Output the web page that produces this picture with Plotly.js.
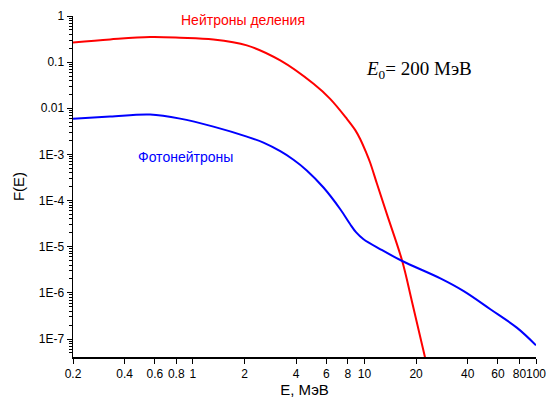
<!DOCTYPE html>
<html><head><meta charset="utf-8">
<script src="https://cdn.plot.ly/plotly-3.0.1.min.js"></script>
<style>html,body{margin:0;padding:0;background:#fff}#c{width:547px;height:403px}</style>
</head><body><div id="c"></div>
<script>
const fissionE = [0.2, 0.329, 0.563, 0.842, 1.317, 2.063, 3.23, 5.05, 6.31, 7.9, 8.84, 9.44, 10.24, 10.8, 11.83, 13.5, 16.6, 18.9, 22.6];
const fissionF = [0.268, 0.311, 0.35, 0.339, 0.311, 0.231, 0.109, 0.0339, 0.016, 0.00589, 3.36e-3, 2.16e-3, 1.09e-3, 6.6e-4, 2.31e-4, 5.14e-5, 4.9e-6, 6.6e-7, 3.86e-8];
const photoE = [0.2, 0.329, 0.563, 0.842, 1.317, 2.063, 2.578, 3.23, 3.858, 4.61, 5.77, 7.23, 8.26, 8.95, 9.88, 12.4, 16.6, 27.7, 37.9, 54.2, 77.6, 100];
const photoF = [0.0059, 0.0066, 0.0073, 0.00597, 0.004, 0.00243, 1.80e-3, 1.174e-3, 7.67e-4, 4.5e-4, 1.92e-4, 6.5e-5, 3.07e-5, 2.04e-5, 1.45e-5, 8.8e-6, 4.9e-6, 2.06e-6, 1.09e-6, 4.42e-7, 1.74e-7, 7.3e-8];
const xTickVals = [0.2, 0.4, 0.6, 0.8, 1, 2, 4, 6, 8, 10, 20, 40, 60, 80, 100];
const xTickText = ['0.2', '0.4', '0.6', '0.8', '1', '2', '4', '6', '8', '10', '20', '40', '60', '80', '100'];
const yTickVals = [1, 0.1, 0.01, 1e-3, 1e-4, 1e-5, 1e-6, 1e-7];
const yTickText = ['1', '0.1', '0.01', '1E-3', '1E-4', '1E-5', '1E-6', '1E-7'];

const yMinor = [];
for (let d = -8; d < 0; d++) for (let m = 2; m <= 9; m++) yMinor.push(m * Math.pow(10, d));

const yRange = [-7.39, 0];
const traces = [
  {x: fissionE, y: fissionF, type: 'scatter', mode: 'lines', line: {color: '#ff0000', width: 2, shape: 'spline', smoothing: 1, simplify: false}, hoverinfo: 'skip'},
  {x: photoE, y: photoF, type: 'scatter', mode: 'lines', line: {color: '#0000ff', width: 2, shape: 'spline', smoothing: 1, simplify: false}, hoverinfo: 'skip'},
  {x: [1], y: [1e-3], yaxis: 'y2', type: 'scatter', mode: 'markers', marker: {opacity: 0, size: 1}, hoverinfo: 'skip'}
];
const layout = {
  width: 547, height: 403,
  margin: {l: 73, r: 11, t: 16, b: 46},
  paper_bgcolor: '#fff', plot_bgcolor: 'rgba(0,0,0,0)',
  showlegend: false,
  font: {family: 'Liberation Sans, Arial, sans-serif', size: 12, color: '#000'},
  xaxis: {
    type: 'log', range: [Math.log10(0.2), 2],
    tickmode: 'array', tickvals: xTickVals, ticktext: xTickText, tickangle: 0,
    ticks: 'outside', ticklen: 5, tickwidth: 1, tickcolor: '#000',
    showline: true, linecolor: '#000', linewidth: 1.5, showgrid: false, zeroline: false,
    tickfont: {size: 12},
    title: {text: 'E, МэВ', font: {size: 15}, standoff: 4}
  },
  yaxis: {
    type: 'log', range: yRange,
    tickmode: 'array', tickvals: yTickVals, ticktext: yTickText,
    ticks: 'outside', ticklen: 5, tickwidth: 1, tickcolor: '#000',
    showline: true, linecolor: '#000', linewidth: 1.5, showgrid: false, zeroline: false,
    tickfont: {size: 12},
    title: {text: 'F(E)', font: {size: 15}, standoff: 10}
  },
  yaxis2: {
    type: 'log', range: yRange, overlaying: 'y', side: 'left', anchor: 'x',
    tickmode: 'array', tickvals: yMinor, showticklabels: false,
    ticks: 'outside', ticklen: 3, tickwidth: 1, tickcolor: '#000',
    showline: false, showgrid: false, zeroline: false
  },
  annotations: [
    {xref: 'paper', yref: 'paper', x: (243 - 73) / 463, y: (357 - 20) / 341, text: 'Нейтроны деления', showarrow: false, font: {color: '#ff0000', size: 14}, xanchor: 'center', yanchor: 'middle'},
    {xref: 'paper', yref: 'paper', x: (185 - 73) / 463, y: (357 - 157) / 341, text: 'Фотонейтроны', showarrow: false, font: {color: '#0000ff', size: 14}, xanchor: 'center', yanchor: 'middle'},
    {xref: 'paper', yref: 'paper', x: (364 - 73) / 463, y: (357 - 70) / 341, text: '<i>E</i><sub>0</sub>= 200 МэВ', showarrow: false, font: {family: 'Liberation Serif, Times New Roman, serif', color: '#000', size: 19}, xanchor: 'left', yanchor: 'middle'}
  ]
};
Plotly.newPlot('c', traces, layout, {staticPlot: true});
</script></body></html>
